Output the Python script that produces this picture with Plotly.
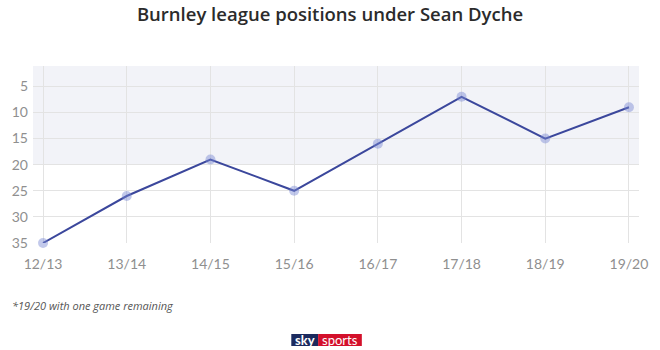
import plotly.graph_objects as go

seasons = ["12/13", "13/14", "14/15", "15/16", "16/17", "17/18", "18/19", "19/20"]
positions = [35, 26, 19, 25, 16, 7, 15, 9]
y_ticks = [5, 10, 15, 20, 25, 30, 35]

W, H = 660, 350
L, R, T, B = 33, 17, 66, 107

fig = go.Figure()
fig.add_trace(go.Scatter(
    x=list(range(len(seasons))), y=positions, mode="lines+markers",
    line=dict(color="#3b479c", width=2),
    marker=dict(size=10, color="rgba(120,135,210,0.45)", line=dict(width=0)),
    cliponaxis=False, hoverinfo="skip", showlegend=False,
))

fig.add_shape(type="rect", xref="paper", yref="y", x0=0, x1=1, y0=1.1, y1=20,
              fillcolor="#f2f3f8", line=dict(width=0), layer="below")

fig.update_layout(
    width=W, height=H, margin=dict(l=L, r=R, t=T, b=B),
    paper_bgcolor="white", plot_bgcolor="white",
    title=dict(text="Burnley league positions under Sean Dyche", x=0.5, xanchor="center",
               y=1 - 15 / H, yanchor="middle",
               font=dict(family="Open Sans", size=18.5, color="#2b2b2b", weight=600)),
    xaxis=dict(range=[-0.12, 7.12], tickmode="array", tickvals=list(range(len(seasons))),
               ticktext=seasons, showgrid=True, gridcolor="#e3e3e3", gridwidth=1,
               zeroline=False, showline=False, ticks="", ticklabelstandoff=11,
               tickfont=dict(family="Lato", size=14, color="#8f8f8f")),
    yaxis=dict(range=[35, 1.1], tickmode="array", tickvals=y_ticks,
               showgrid=True, gridcolor="#e3e3e3", gridwidth=1, zeroline=False,
               showline=False, ticks="", ticklabelstandoff=4,
               tickfont=dict(family="Lato", size=14, color="#8f8f8f")),
)

fig.add_annotation(text="<i>*19/20 with one game remaining</i>", xref="paper", yref="paper",
                   x=-L / (W - L - R) + 10 / (W - L - R), xanchor="left",
                   y=1 - (305 - T) / (H - T - B), yanchor="middle", showarrow=False,
                   font=dict(family="Open Sans", size=11, color="#555555"))

# sky sports logo
def px_x(p):
    return (p - L) / (W - L - R)

def px_y(p):
    return 1 - (p - T) / (H - T - B)

fig.add_shape(type="rect", xref="paper", yref="paper", x0=px_x(293), x1=px_x(320),
              y0=px_y(346), y1=px_y(334), fillcolor="#1b2a5e", line=dict(width=0))
fig.add_shape(type="rect", xref="paper", yref="paper", x0=px_x(320), x1=px_x(364),
              y0=px_y(346), y1=px_y(334), fillcolor="#d3102b", line=dict(width=0))
fig.add_annotation(text="<b>sky</b>", xref="paper", yref="paper", x=px_x(306.5), y=px_y(340),
                   xanchor="center", yanchor="middle", showarrow=False,
                   font=dict(family="Lato", size=13, color="white"))
fig.add_annotation(text="sports", xref="paper", yref="paper", x=px_x(342), y=px_y(340),
                   xanchor="center", yanchor="middle", showarrow=False,
                   font=dict(family="Lato", size=13, color="white"))

fig.write_html("out.html")
